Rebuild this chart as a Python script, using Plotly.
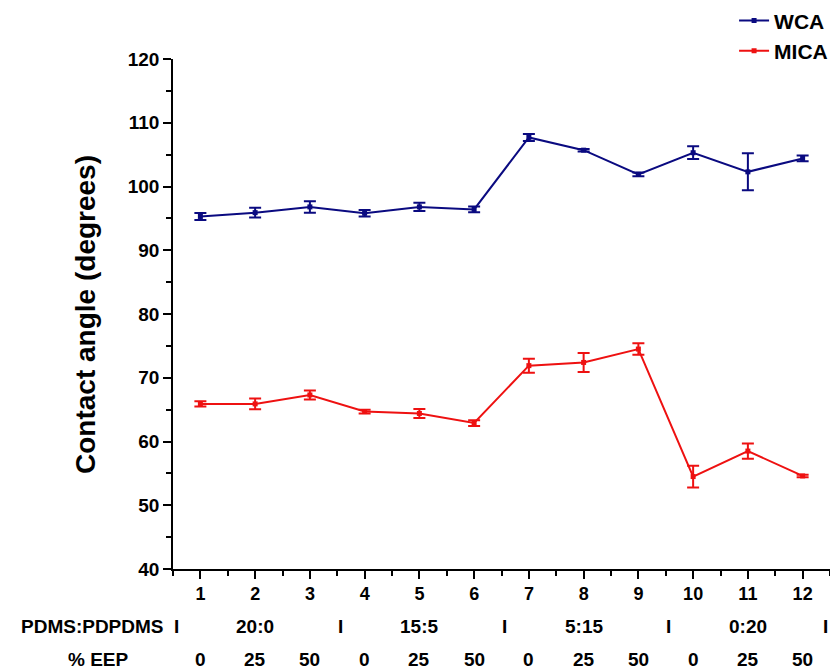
import plotly.graph_objects as go

samples = [1, 2, 3, 4, 5, 6, 7, 8, 9, 10, 11, 12]
wca = [95.3, 95.9, 96.8, 95.8, 96.8, 96.4, 107.7, 105.7, 101.9, 105.3, 102.3, 104.4]
wca_err = [0.55, 0.75, 0.9, 0.5, 0.65, 0.45, 0.55, 0.2, 0.3, 1.0, 2.9, 0.45]
mica = [65.9, 65.9, 67.3, 64.7, 64.4, 62.9, 71.9, 72.4, 74.5, 54.5, 58.5, 54.6]
mica_err = [0.4, 0.85, 0.7, 0.3, 0.7, 0.45, 1.1, 1.5, 0.9, 1.7, 1.2, 0.2]

ratio_labels = ["20:0", "15:5", "5:15", "0:20"]
ratio_centers = [2, 5, 8, 11]
separators = [0.5, 3.5, 6.5, 9.5, 12.5]
eep_labels = ["0", "25", "50", "0", "25", "50", "0", "25", "50", "0", "25", "50"]

FONT = "Arial"
ROW1_Y = -0.1137
ROW2_Y = -0.178
ROW_FONT = dict(size=19, family=FONT, color="black")

fig = go.Figure()
fig.add_trace(go.Scatter(
    x=samples, y=wca, name="<b>WCA</b>", mode="lines+markers",
    line=dict(color="#0a0a80", width=2),
    marker=dict(symbol="square", size=5, color="#0a0a80"),
    error_y=dict(type="data", array=wca_err, visible=True, color="#0a0a80", thickness=2, width=6),
))
fig.add_trace(go.Scatter(
    x=samples, y=mica, name="<b>MICA</b>", mode="lines+markers",
    line=dict(color="#ee1111", width=2),
    marker=dict(symbol="square", size=5, color="#ee1111"),
    error_y=dict(type="data", array=mica_err, visible=True, color="#ee1111", thickness=2, width=6),
))

annos = []
annos.append(dict(x=-0.0107, y=ROW1_Y, xref="paper", yref="paper", text="<b>PDMS:PDPDMS</b>",
                  showarrow=False, xanchor="right", yanchor="middle", font=ROW_FONT))
annos.append(dict(x=-0.114, y=ROW2_Y, xref="paper", yref="paper", text="<b>% EEP</b>",
                  showarrow=False, xanchor="center", yanchor="middle", font=ROW_FONT))
for i, s in enumerate(separators):
    last = i == len(separators) - 1
    annos.append(dict(x=s, y=ROW1_Y, xref="x", yref="paper", text="<b>I</b>", showarrow=False,
                      xanchor="right" if last else "center", yanchor="middle",
                      xshift=0 if last else 3, font=ROW_FONT))
for c, t in zip(ratio_centers, ratio_labels):
    annos.append(dict(x=c, y=ROW1_Y, xref="x", yref="paper", text="<b>%s</b>" % t, showarrow=False,
                      xanchor="center", yanchor="middle", font=ROW_FONT))
for s, t in zip(samples, eep_labels):
    annos.append(dict(x=s, y=ROW2_Y, xref="x", yref="paper", text="<b>%s</b>" % t, showarrow=False,
                      xanchor="center", yanchor="middle", font=ROW_FONT))
annos.append(dict(x=-0.134, y=0.5, xref="paper", yref="paper", text="<b>Contact angle (degrees)</b>",
                  textangle=-90, showarrow=False, xanchor="center", yanchor="middle",
                  font=dict(size=28, family=FONT, color="black")))

fig.update_layout(
    width=830, height=669,
    margin=dict(l=173, r=0, t=59, b=100, autoexpand=False),
    paper_bgcolor="white", plot_bgcolor="white",
    showlegend=True,
    legend=dict(x=0.854, y=1.115, xanchor="left", yanchor="top", bgcolor="rgba(0,0,0,0)",
                font=dict(size=21, family=FONT, color="black"), tracegroupgap=0),
    annotations=annos,
    font=dict(family=FONT, color="black"),
)

fig.update_xaxes(
    range=[0.5, 12.5], tickmode="array", tickvals=samples,
    ticktext=["<b>%d</b>" % s for s in samples],
    ticks="outside", ticklen=8, tickwidth=1.5, tickcolor="black",
    minor=dict(tickmode="array", tickvals=[0.5] + [s + 0.5 for s in samples], ticks="outside",
               ticklen=5, tickwidth=1.5, tickcolor="black"),
    showline=True, linecolor="black", linewidth=1.5, showgrid=False, zeroline=False,
    tickfont=dict(size=18, family=FONT, color="black"),
)
fig.update_yaxes(
    range=[40, 120], tickmode="linear", tick0=40, dtick=10,
    tickprefix="<b>", ticksuffix="</b>",
    ticks="outside", ticklen=8, tickwidth=1.5, tickcolor="black",
    minor=dict(dtick=5, tick0=45, ticks="outside", ticklen=5, tickwidth=1.5, tickcolor="black"),
    showline=True, linecolor="black", linewidth=1.5, showgrid=False, zeroline=False,
    tickfont=dict(size=19, family=FONT, color="black"),
)

fig.write_html("out.html")
